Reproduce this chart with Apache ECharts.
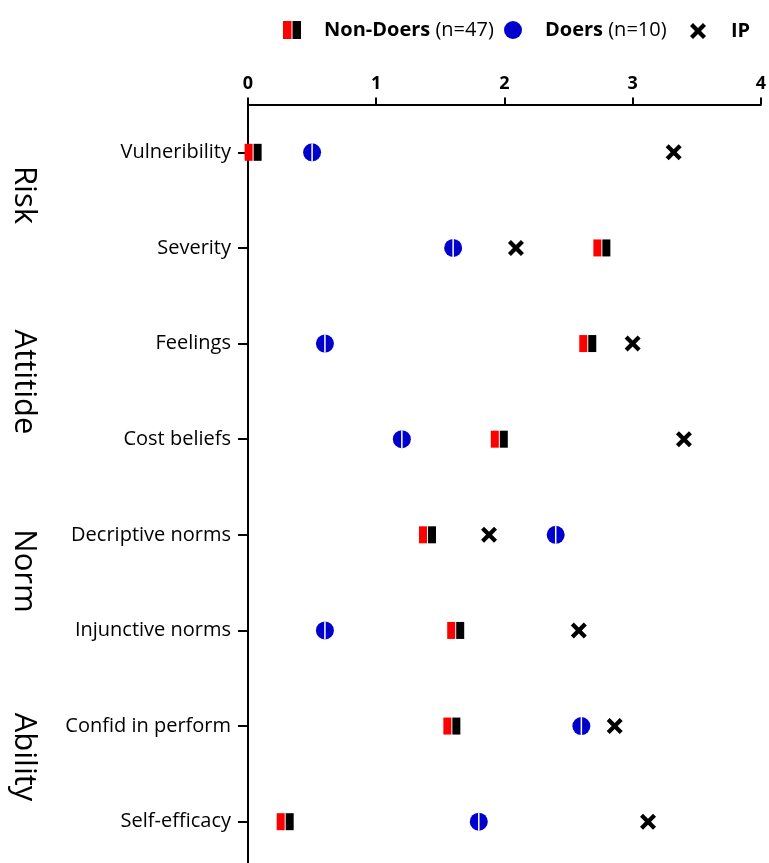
<!DOCTYPE html>
<html>
<head>
<meta charset="utf-8">
<script src="https://cdn.jsdelivr.net/npm/echarts@6/dist/echarts.min.js"></script>
<style>html,body{margin:0;padding:0;background:#fff;width:769px;height:863px;overflow:hidden;}#main{width:769px;height:880px;}</style>
</head>
<body>
<div id="main"></div>
<script>
var categories = ['Vulneribility','Severity','Feelings','Cost beliefs','Decriptive norms','Injunctive norms','Confid in perform','Self-efficacy'];
var nonDoers = [0.04, 2.76, 2.65, 1.96, 1.40, 1.62, 1.59, 0.29];
var doers = [0.50, 1.60, 0.60, 1.20, 2.40, 0.60, 2.60, 1.80];
var ip = [3.32, 2.09, 3.00, 3.40, 1.88, 2.58, 2.86, 3.12];
var xTicks = [0, 1, 2, 3, 4];
var groups = [
  {name: 'Risk', y: 195},
  {name: 'Attitide', y: 382},
  {name: 'Norm', y: 571},
  {name: 'Ability', y: 757}
];

var FONT = 'Open Sans';
var xPath = 'path://M0,3 L3,0 L8,5 L13,0 L16,3 L11,8 L16,13 L13,16 L8,11 L3,16 L0,13 L5,8 Z';
var ndIcon = 'image://data:image/svg+xml;utf8,' + encodeURIComponent(
  '<svg xmlns="http://www.w3.org/2000/svg" width="18" height="18"><rect x="0" y="0" width="8.5" height="18" fill="#ff0000"/><rect x="9.5" y="0" width="8.5" height="18" fill="#000000"/></svg>');

function pairs(arr) { return arr.map(function (v, i) { return [v, categories[i]]; }); }

var chart = echarts.init(document.getElementById('main'), null, {renderer: 'canvas'});
var legendText = {
  fontFamily: FONT, fontSize: 20, color: '#000',
  rich: {
    b: {fontFamily: FONT, fontSize: 20, fontWeight: 'bold', color: '#000'},
    n: {fontFamily: FONT, fontSize: 20, color: '#000'}
  }
};
chart.setOption({
  animation: false,
  backgroundColor: '#fff',
  legend: [
    {
      left: 278, top: 15, itemWidth: 18, itemHeight: 18,
      data: [{name: 'Non-Doers', icon: ndIcon}],
      formatter: function () { return '{b|Non-Doers} {n|(n=47)}'; },
      textStyle: Object.assign({padding: [0, 0, 0, 18]}, legendText)
    },
    {
      left: 499, top: 15, itemWidth: 18, itemHeight: 18,
      data: [{name: 'Doers', icon: 'circle'}],
      formatter: function () { return '{b|Doers} {n|(n=10)}'; },
      textStyle: Object.assign({padding: [0, 0, 0, 18]}, legendText)
    },
    {
      left: 685, top: 16, itemWidth: 16, itemHeight: 16,
      data: [{name: 'IP', icon: xPath}],
      formatter: function () { return '{b|IP}'; },
      textStyle: Object.assign({padding: [0, 0, 0, 20]}, legendText)
    }
  ],
  grid: {left: 248, right: 7, top: 104.5, height: 765, containLabel: false},
  xAxis: {
    type: 'value', position: 'top', min: 0, max: 4, interval: 1,
    axisLine: {show: true, lineStyle: {color: '#000', width: 2}},
    axisTick: {show: true, length: 7, lineStyle: {color: '#000', width: 2}},
    axisLabel: {color: '#000', fontFamily: FONT, fontSize: 18, fontWeight: 'bold', margin: 12,
      formatter: function (v) { return xTicks.indexOf(v) >= 0 ? String(v) : ''; }},
    splitLine: {show: false}
  },
  yAxis: {
    type: 'category', inverse: true, data: categories,
    axisLine: {show: true, lineStyle: {color: '#000', width: 2}},
    axisTick: {show: true, alignWithLabel: true, length: 10, lineStyle: {color: '#000', width: 2}},
    axisLabel: {color: '#000', fontFamily: FONT, fontSize: 20, margin: 17}
  },
  graphic: groups.map(function (g) {
    return {
      type: 'text', x: 24, y: g.y, rotation: -Math.PI / 2,
      style: {text: g.name, fill: '#000', fontFamily: FONT, fontSize: 31, align: 'center', verticalAlign: 'middle'}
    };
  }),
  series: [
    {
      name: 'Non-Doers', type: 'scatter', data: pairs(nonDoers), symbol: 'rect',
      symbolSize: [8, 17], symbolOffset: [-4.5, 0], itemStyle: {color: '#ff0000', opacity: 1}, z: 3
    },
    {
      name: 'Non-Doers', type: 'scatter', data: pairs(nonDoers), symbol: 'rect',
      symbolSize: [8, 17], symbolOffset: [4.5, 0], itemStyle: {color: '#000000', opacity: 1}, z: 3
    },
    {
      name: 'Doers', type: 'scatter', data: pairs(doers), symbol: 'circle',
      symbolSize: 18, itemStyle: {color: '#0000cc', opacity: 1}, z: 3
    },
    {
      name: 'Doers', type: 'scatter', data: pairs(doers), symbol: 'rect',
      symbolSize: [1.5, 18], itemStyle: {color: '#ffffff', opacity: 1}, z: 4
    },
    {
      name: 'IP', type: 'scatter', data: pairs(ip), symbol: xPath,
      symbolSize: 16, itemStyle: {color: '#000', opacity: 1}, z: 3
    }
  ]
});
</script>
</body>
</html>
